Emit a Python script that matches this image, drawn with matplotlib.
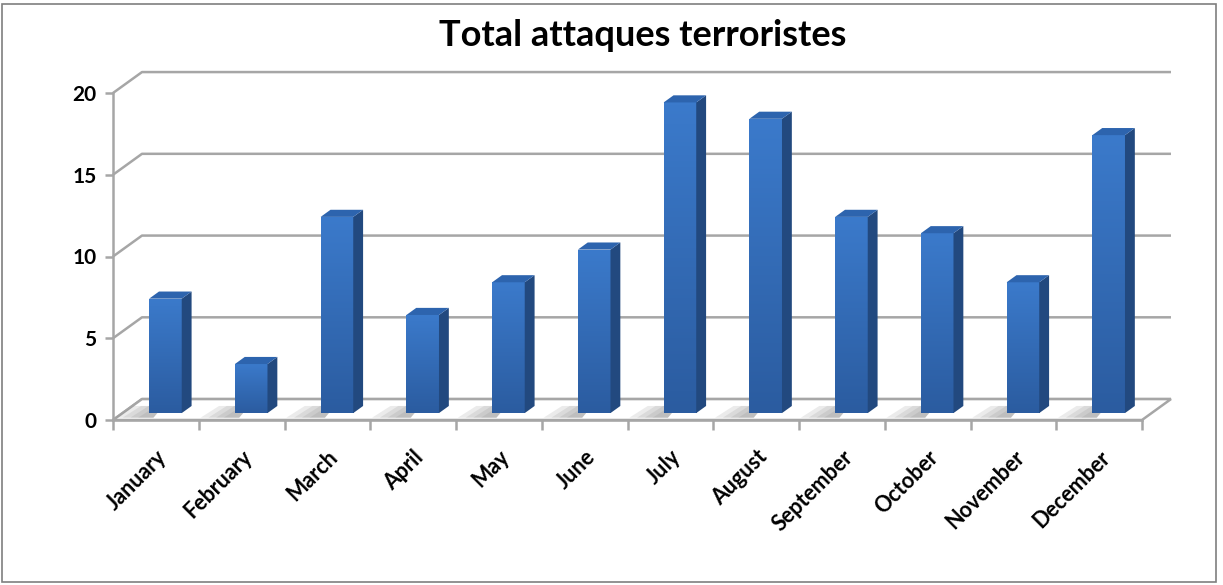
import numpy as np
import matplotlib.pyplot as plt
from matplotlib.patches import Polygon, Rectangle
from matplotlib.colors import LinearSegmentedColormap

months = ['January', 'February', 'March', 'April', 'May', 'June',
          'July', 'August', 'September', 'October', 'November', 'December']
attacks = [7, 3, 12, 6, 8, 10, 19, 18, 12, 11, 8, 17]
y_ticks = [0, 5, 10, 15, 20]

plt.rcParams['font.family'] = ['Lato', 'DejaVu Sans']

W, H = 1223, 585
fig = plt.figure(figsize=(W / 100, H / 100), dpi=100)
ax = fig.add_axes([113 / W, 165 / H, 1029 / W, 327 / H])

# fake 3D: offset of the back wall in data units
DX, DY = 0.338, 1.28
d0, d1 = 0.33, 0.67      # bar front / back depth (fraction of DX, DY)
dd = d1 - d0
bw = 0.38
grid_c = '#a6a6a6'

# back wall gridlines + connectors to the front axis
for v in y_ticks:
    ax.plot([0, DX, 12 + DX], [v, v + DY, v + DY], color=grid_c, lw=1.8,
            clip_on=False, zorder=1, solid_capstyle='butt')

# floor
floor = Polygon([(0, 0), (12, 0), (12 + DX, DY), (DX, DY)], closed=True,
                fc='white', ec=grid_c, lw=1.8, clip_on=False, zorder=1.5)
ax.add_patch(floor)

x = np.arange(len(months)) + 0.5
bars = ax.bar(x + d0 * DX, attacks, width=bw, bottom=d0 * DY, color='#3271bf',
              zorder=3, clip_on=False)

bar_cmap = LinearSegmentedColormap.from_list('bar', ['#2b5ca0', '#3b7acb'])
grad = np.linspace(0, 1, 100).reshape(-1, 1)
for b in bars:
    x0 = b.get_x()
    x1 = x0 + b.get_width()
    y0 = b.get_y()
    y1 = y0 + b.get_height()
    # soft shadow on the floor
    for k in range(4):
        s = 0.09 * k
        sh = Polygon([(x0 - 0.40 + s, y0 - 0.22 * DY), (x0 + 0.05, y0 - 0.22 * DY),
                      (x0 + 0.05 + dd * DX, y0 + dd * DY), (x0 - 0.30 + s + dd * DX, y0 + dd * DY)],
                     fc='#7a7a7a', alpha=0.15, lw=0, zorder=2, clip_on=False)
        ax.add_patch(sh)
    # gradient on the front face
    im = ax.imshow(grad, extent=(x0, x1, y0, y1), origin='lower', aspect='auto',
                   cmap=bar_cmap, zorder=3.1)
    im.set_clip_path(b)
    side = Polygon([(x1, y0), (x1 + dd * DX, y0 + dd * DY), (x1 + dd * DX, y1 + dd * DY), (x1, y1)],
                   fc='#22497f', lw=0, zorder=3.2, clip_on=False)
    top = Polygon([(x0, y1), (x1, y1), (x1 + dd * DX, y1 + dd * DY), (x0 + dd * DX, y1 + dd * DY)],
                  fc='#2d64ae', lw=0, zorder=3.2, clip_on=False)
    ax.add_patch(side)
    ax.add_patch(top)

ax.set_xlim(0, 12)
ax.set_ylim(0, 20)

for sp in ['top', 'right']:
    ax.spines[sp].set_visible(False)
for sp in ['left', 'bottom']:
    ax.spines[sp].set_color(grid_c)
    ax.spines[sp].set_linewidth(1.8)
    ax.spines[sp].set_zorder(4)

ax.set_yticks(y_ticks)
ax.set_yticklabels([str(v) for v in y_ticks], fontsize=15, fontweight='bold')
ax.tick_params(axis='y', length=6, width=1.8, color=grid_c, pad=6)

ax.set_xticks(np.arange(13))
ax.set_xticklabels([])
ax.tick_params(axis='x', which='major', length=7, width=1.8, color=grid_c)
ax.set_xticks(x, minor=True)
ax.set_xticklabels(months, minor=True, rotation=45, ha='right', rotation_mode='anchor',
                   fontsize=15.5, fontweight='bold')
ax.tick_params(axis='x', which='minor', length=0, pad=19)
ax.set_facecolor('none')

fig.text(643 / W, 1 - 36 / H, 'Total attaques terroristes', ha='center', va='center',
         fontsize=26, fontweight='bold')

fig.add_artist(Rectangle((2 / W, 3 / H), 1214 / W, 578 / H, transform=fig.transFigure,
                         fill=False, ec='#7f7f7f', lw=1.2))

fig.savefig('out.png', dpi=100)
